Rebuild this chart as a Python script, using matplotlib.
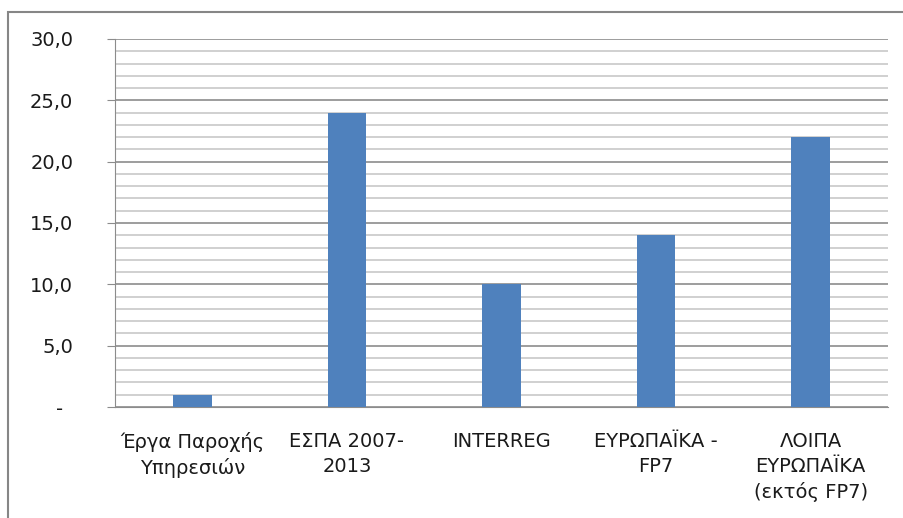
import matplotlib.pyplot as plt
from matplotlib.ticker import MultipleLocator, FixedLocator
from matplotlib.patches import Rectangle
from matplotlib.transforms import ScaledTranslation

categories = ["Έργα Παροχής\nΥπηρεσιών", "ΕΣΠΑ 2007-\n2013", "INTERREG",
              "ΕΥΡΩΠΑΪΚΑ -\nFP7", "ΛΟΙΠΑ\nΕΥΡΩΠΑΪΚΑ\n(εκτός FP7)"]
values = [1.0, 24.0, 10.0, 14.0, 22.0]
yticks = [0, 5, 10, 15, 20, 25, 30]
ytick_labels = ["-", "5,0", "10,0", "15,0", "20,0", "25,0", "30,0"]

plt.rcParams['font.family'] = ['DejaVu Sans']

fig = plt.figure(figsize=(9.04, 5.18), dpi=100)
ax = fig.add_axes([115/904, 1 - 407/518, (888 - 115)/904, (407 - 39)/518])

x = range(len(categories))
ax.bar(x, values, width=0.25, color="#4F81BD", zorder=3)

ax.set_xlim(-0.5, len(categories) - 0.5)
ax.set_ylim(0, 30)
ax.yaxis.set_major_locator(FixedLocator(yticks))
ax.yaxis.set_minor_locator(MultipleLocator(1))
ax.set_yticklabels(ytick_labels, fontsize=14, color="#1a1a1a")
ax.set_xticks(list(x))
ax.set_xticklabels(categories, fontsize=14, color="#1a1a1a", linespacing=1.4)

ax.grid(axis="y", which="major", color="#8c8c8c", linewidth=1.2, zorder=0)
ax.grid(axis="y", which="minor", color="#c8c8c8", linewidth=1.2, zorder=0)
ax.tick_params(axis="y", which="major", length=6, color="#8c8c8c", pad=24)
ax.tick_params(axis="y", which="minor", length=0)
ax.tick_params(axis="x", length=0, pad=18)

for side in ["top", "right"]:
    ax.spines[side].set_visible(False)
for side in ["left", "bottom"]:
    ax.spines[side].set_color("#8c8c8c")

# shift the "-" zero label left like the original
lab0 = ax.get_yticklabels()[0]
lab0.set_transform(lab0.get_transform() + ScaledTranslation(-10/100, 0, fig.dpi_scale_trans))

# chart-area border (right/bottom run off the image)
fig.patches.append(Rectangle((8/904, -0.1), 1.2, 1 - 12/518 + 0.1, transform=fig.transFigure,
                             fill=False, edgecolor="#868686", linewidth=1.5))

fig.savefig("out.png", dpi=100)
